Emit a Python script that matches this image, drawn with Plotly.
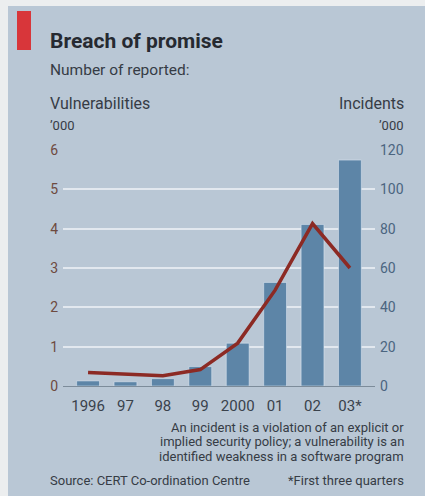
import plotly.graph_objects as go

years = ["1996", "97", "98", "99", "2000", "01", "02", "03*"]
incidents_k = [2.573, 2.134, 3.734, 9.859, 21.756, 52.658, 82.094, 114.855]
vulnerabilities_k = [0.345, 0.311, 0.262, 0.417, 1.090, 2.437, 4.129, 3.0]
left_ticks = [0, 1, 2, 3, 4, 5, 6]
right_ticks = [0, 20, 40, 60, 80, 100, 120]

W, H = 425, 496
L, R, T, B = 63, 375, 150, 386
BG = "#b9c7d5"
BAR = "#5d85a7"
LINE = "#8c2a24"
TXT = "#2e343c"
FONT = "Roboto"

def px(x):
    return (x - L) / (R - L)

def py(y):
    return (B - y) / (B - T)

fig = go.Figure()
fig.add_trace(go.Bar(x=years, y=incidents_k, marker_color=BAR, width=0.61,
                     yaxis="y", showlegend=False))
fig.add_trace(go.Scatter(x=years, y=vulnerabilities_k, mode="lines",
                         line=dict(color=LINE, width=3.5), yaxis="y2",
                         showlegend=False))

fig.update_layout(
    width=W, height=H,
    margin=dict(l=L, r=W - R, t=T, b=H - B),
    paper_bgcolor=BG, plot_bgcolor=BG,
    font=dict(family=FONT, color=TXT),
    xaxis=dict(type="category", range=[-0.67, 7.67], showgrid=False,
               showline=True, linecolor="#7d8c9a", linewidth=1.2,
               ticks="", tickfont=dict(size=15, color="#3a424c"),
               ticklabelstandoff=6),
    yaxis=dict(side="right", range=[0, 120], tickvals=right_ticks,
               showgrid=True, gridcolor="#e2e8ef", gridwidth=2,
               zeroline=False, ticks="", ticklabelstandoff=4,
               tickfont=dict(size=14, color="#4b6580")),
    yaxis2=dict(side="left", overlaying="y", range=[0, 6], tickvals=left_ticks,
                showgrid=False, zeroline=False, ticks="", ticklabelstandoff=4,
                tickfont=dict(size=14, color="#6e4a40")),
)

shapes = [
    dict(type="rect", xref="paper", yref="paper", x0=px(0), x1=px(8),
         y0=py(0), y1=py(H), fillcolor="#eceeef", line_width=0, layer="below"),
    dict(type="rect", xref="paper", yref="paper", x0=px(0), x1=px(W),
         y0=py(0), y1=py(6), fillcolor="#eceeef", line_width=0, layer="below"),
    dict(type="rect", xref="paper", yref="paper", x0=px(17), x1=px(31),
         y0=py(50), y1=py(11), fillcolor="#d8363a", line_width=0),
]
fig.update_layout(shapes=shapes)

def ann(text, x, y, size, xanchor="left", color="#363c45", bold=False):
    if bold:
        text = "<b>" + text + "</b>"
    fig.add_annotation(text=text, xref="paper", yref="paper", x=px(x), y=py(y),
                       xanchor=xanchor, yanchor="middle", showarrow=False,
                       font=dict(size=size, color=color, family=FONT))

ann("Breach of promise", 48, 41, 21, bold=True, color="#262a31")
ann("Number of reported:", 48, 70, 15.5)
ann("Vulnerabilities", 48, 103, 16)
ann("Incidents", 406, 103, 16, xanchor="right")
ann("’000", 48, 125, 13)
ann("’000", 406, 125, 13, xanchor="right")
note_lines = ["An incident is a violation of an explicit or",
              "implied security policy; a vulnerability is an",
              "identified weakness in a software program"]
for i, line in enumerate(note_lines):
    ann(line, 406, 427 + 14.5 * i, 13, xanchor="right")
ann("Source: CERT Co-ordination Centre", 48, 480, 13)
ann("*First three quarters", 406, 480, 13, xanchor="right")

fig.write_html("out.html")
